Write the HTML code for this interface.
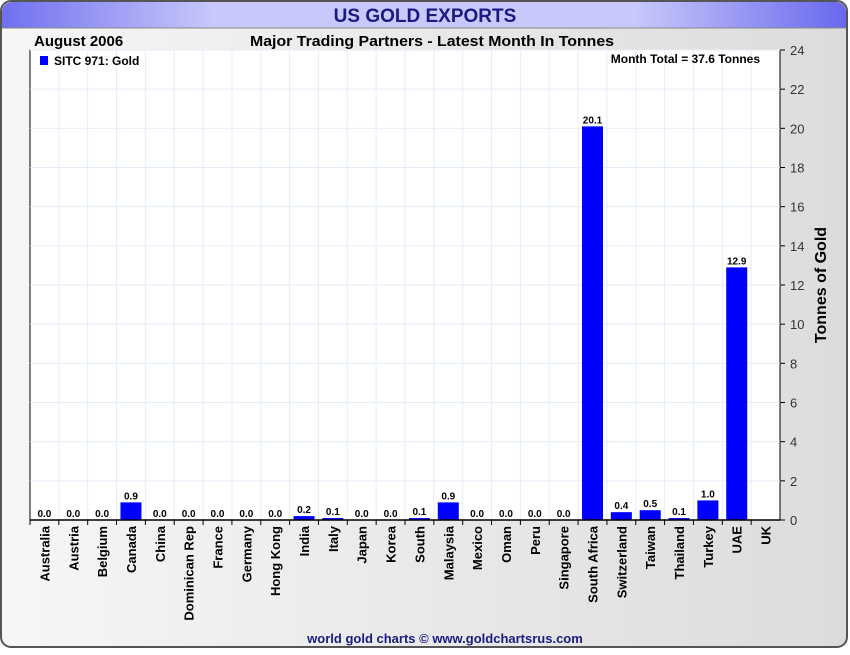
<!DOCTYPE html>
<html><head><meta charset="utf-8"><style>
body{margin:0;background:#fff;font-family:"Liberation Sans",sans-serif}
</style></head><body>
<svg id="c" width="850" height="650" xmlns="http://www.w3.org/2000/svg">
<defs>
<linearGradient id="hdr" x1="0" x2="1"><stop offset="0" stop-color="#7070f0"/><stop offset="0.25" stop-color="#c8c8fa"/><stop offset="0.75" stop-color="#c8c8fa"/><stop offset="1" stop-color="#6868ee"/></linearGradient>
<linearGradient id="bg" x1="0" x2="1"><stop offset="0" stop-color="#f6f6f6"/><stop offset="1" stop-color="#dcdcdc"/></linearGradient>
</defs>
<rect x="1" y="1" width="846" height="646" rx="10" fill="url(#bg)" stroke="#555" stroke-width="2"/>
<path d="M2,28 V12 A10,10 0 0 1 12,2 H836 A10,10 0 0 1 846,12 V28 Z" fill="url(#hdr)"/>
<line x1="2" y1="28" x2="846" y2="28" stroke="#888"/>
<text x="425" y="22" text-anchor="middle" font-size="19" font-weight="bold" fill="#1a1a80">US GOLD EXPORTS</text>
<text x="34" y="46" font-size="15" font-weight="bold" fill="#000">August 2006</text>
<text x="432" y="46" text-anchor="middle" font-size="15" font-weight="bold" textLength="364" lengthAdjust="spacingAndGlyphs" fill="#000">Major Trading Partners - Latest Month In Tonnes</text>
<rect x="30" y="50" width="750" height="470" fill="#fff" stroke="#000"/>
<g id="grid"></g><g id="bars"></g><g id="axes"></g>
<rect x="40" y="56" width="8" height="9" fill="#0000ff"/>
<text x="54" y="65" font-size="12" font-weight="bold">SITC 971: Gold</text>
<text x="760" y="63" text-anchor="end" font-size="12" font-weight="bold">Month Total = 37.6 Tonnes</text>
<text x="826" y="285" text-anchor="middle" font-size="16" font-weight="bold" transform="rotate(-90 826 285)">Tonnes of Gold</text>
<text x="445" y="643" text-anchor="middle" font-size="13" font-weight="bold" fill="#1a1a80">world gold charts © www.goldchartsrus.com</text>
</svg>
<script>
const categories=["Australia","Austria","Belgium","Canada","China","Dominican Rep","France","Germany","Hong Kong","India","Italy","Japan","Korea","South","Malaysia","Mexico","Oman","Peru","Singapore","South Africa","Switzerland","Taiwan","Thailand","Turkey","UAE","UK"];
const values=[0,0,0,0.9,0,0,0,0,0,0.2,0.1,0,0,0.1,0.9,0,0,0,0,20.1,0.4,0.5,0.1,1.0,12.9,null];
const yTicks=[0,2,4,6,8,10,12,14,16,18,20,22,24];
const L=30,R=780,T=50,B=520,yMax=24;
const slot=(R-L)/categories.length;
const x=i=>L+slot*i;
const y=v=>B-(v/yMax)*(B-T);
const NS="http://www.w3.org/2000/svg";
function mk(tag,attrs,parent,txt){const e=document.createElementNS(NS,tag);for(const k in attrs)e.setAttribute(k,attrs[k]);if(txt!=null)e.textContent=txt;document.getElementById(parent).appendChild(e);return e;}
yTicks.forEach(t=>{
  const g=mk('line',{x1:L,x2:R,y1:y(t),y2:y(t),stroke:'#e4eef8'},'grid');
  
  
  const tk=mk('line',{x1:R,x2:R+5,y1:y(t),y2:y(t),stroke:'#000'},'axes');
  
  
  const lb=mk('text',{x:R+10,y:y(t)+5,'font-size':13,fill:'#333'},'axes',String(t));
  
  
});
categories.forEach((c,i)=>{
  if(i>0){const g=mk('line',{x1:x(i),x2:x(i),y1:T,y2:B,stroke:'#e4eef8'},'grid');
  
  }
  const tk=mk('line',{x1:x(i),x2:x(i),y1:B,y2:B+5,stroke:'#000'},'axes');
  
  
  const cx=x(i)+slot/2;
  const lb=mk('text',{x:cx+5,y:B+6,'font-size':13,'font-weight':'bold','text-anchor':'end',transform:`rotate(-90 ${cx+5} ${B+6})`},'axes',c);
  
  
  const v=values[i];
  if(v!=null){
    const bw=21;
    const b=mk('rect',{x:cx-bw/2,y:y(v),width:bw,height:B-y(v),fill:'#0000ff'},'bars');
    
    
    const vl=mk('text',{x:cx,y:y(v)-3,'font-size':10,'font-weight':'bold','text-anchor':'middle'},'bars',v.toFixed(1));
    
    
  }
});
const ax=mk('line',{x1:L,x2:R,y1:B,y2:B,stroke:'#000','stroke-width':1.5},'axes');


</script>
</body></html>
